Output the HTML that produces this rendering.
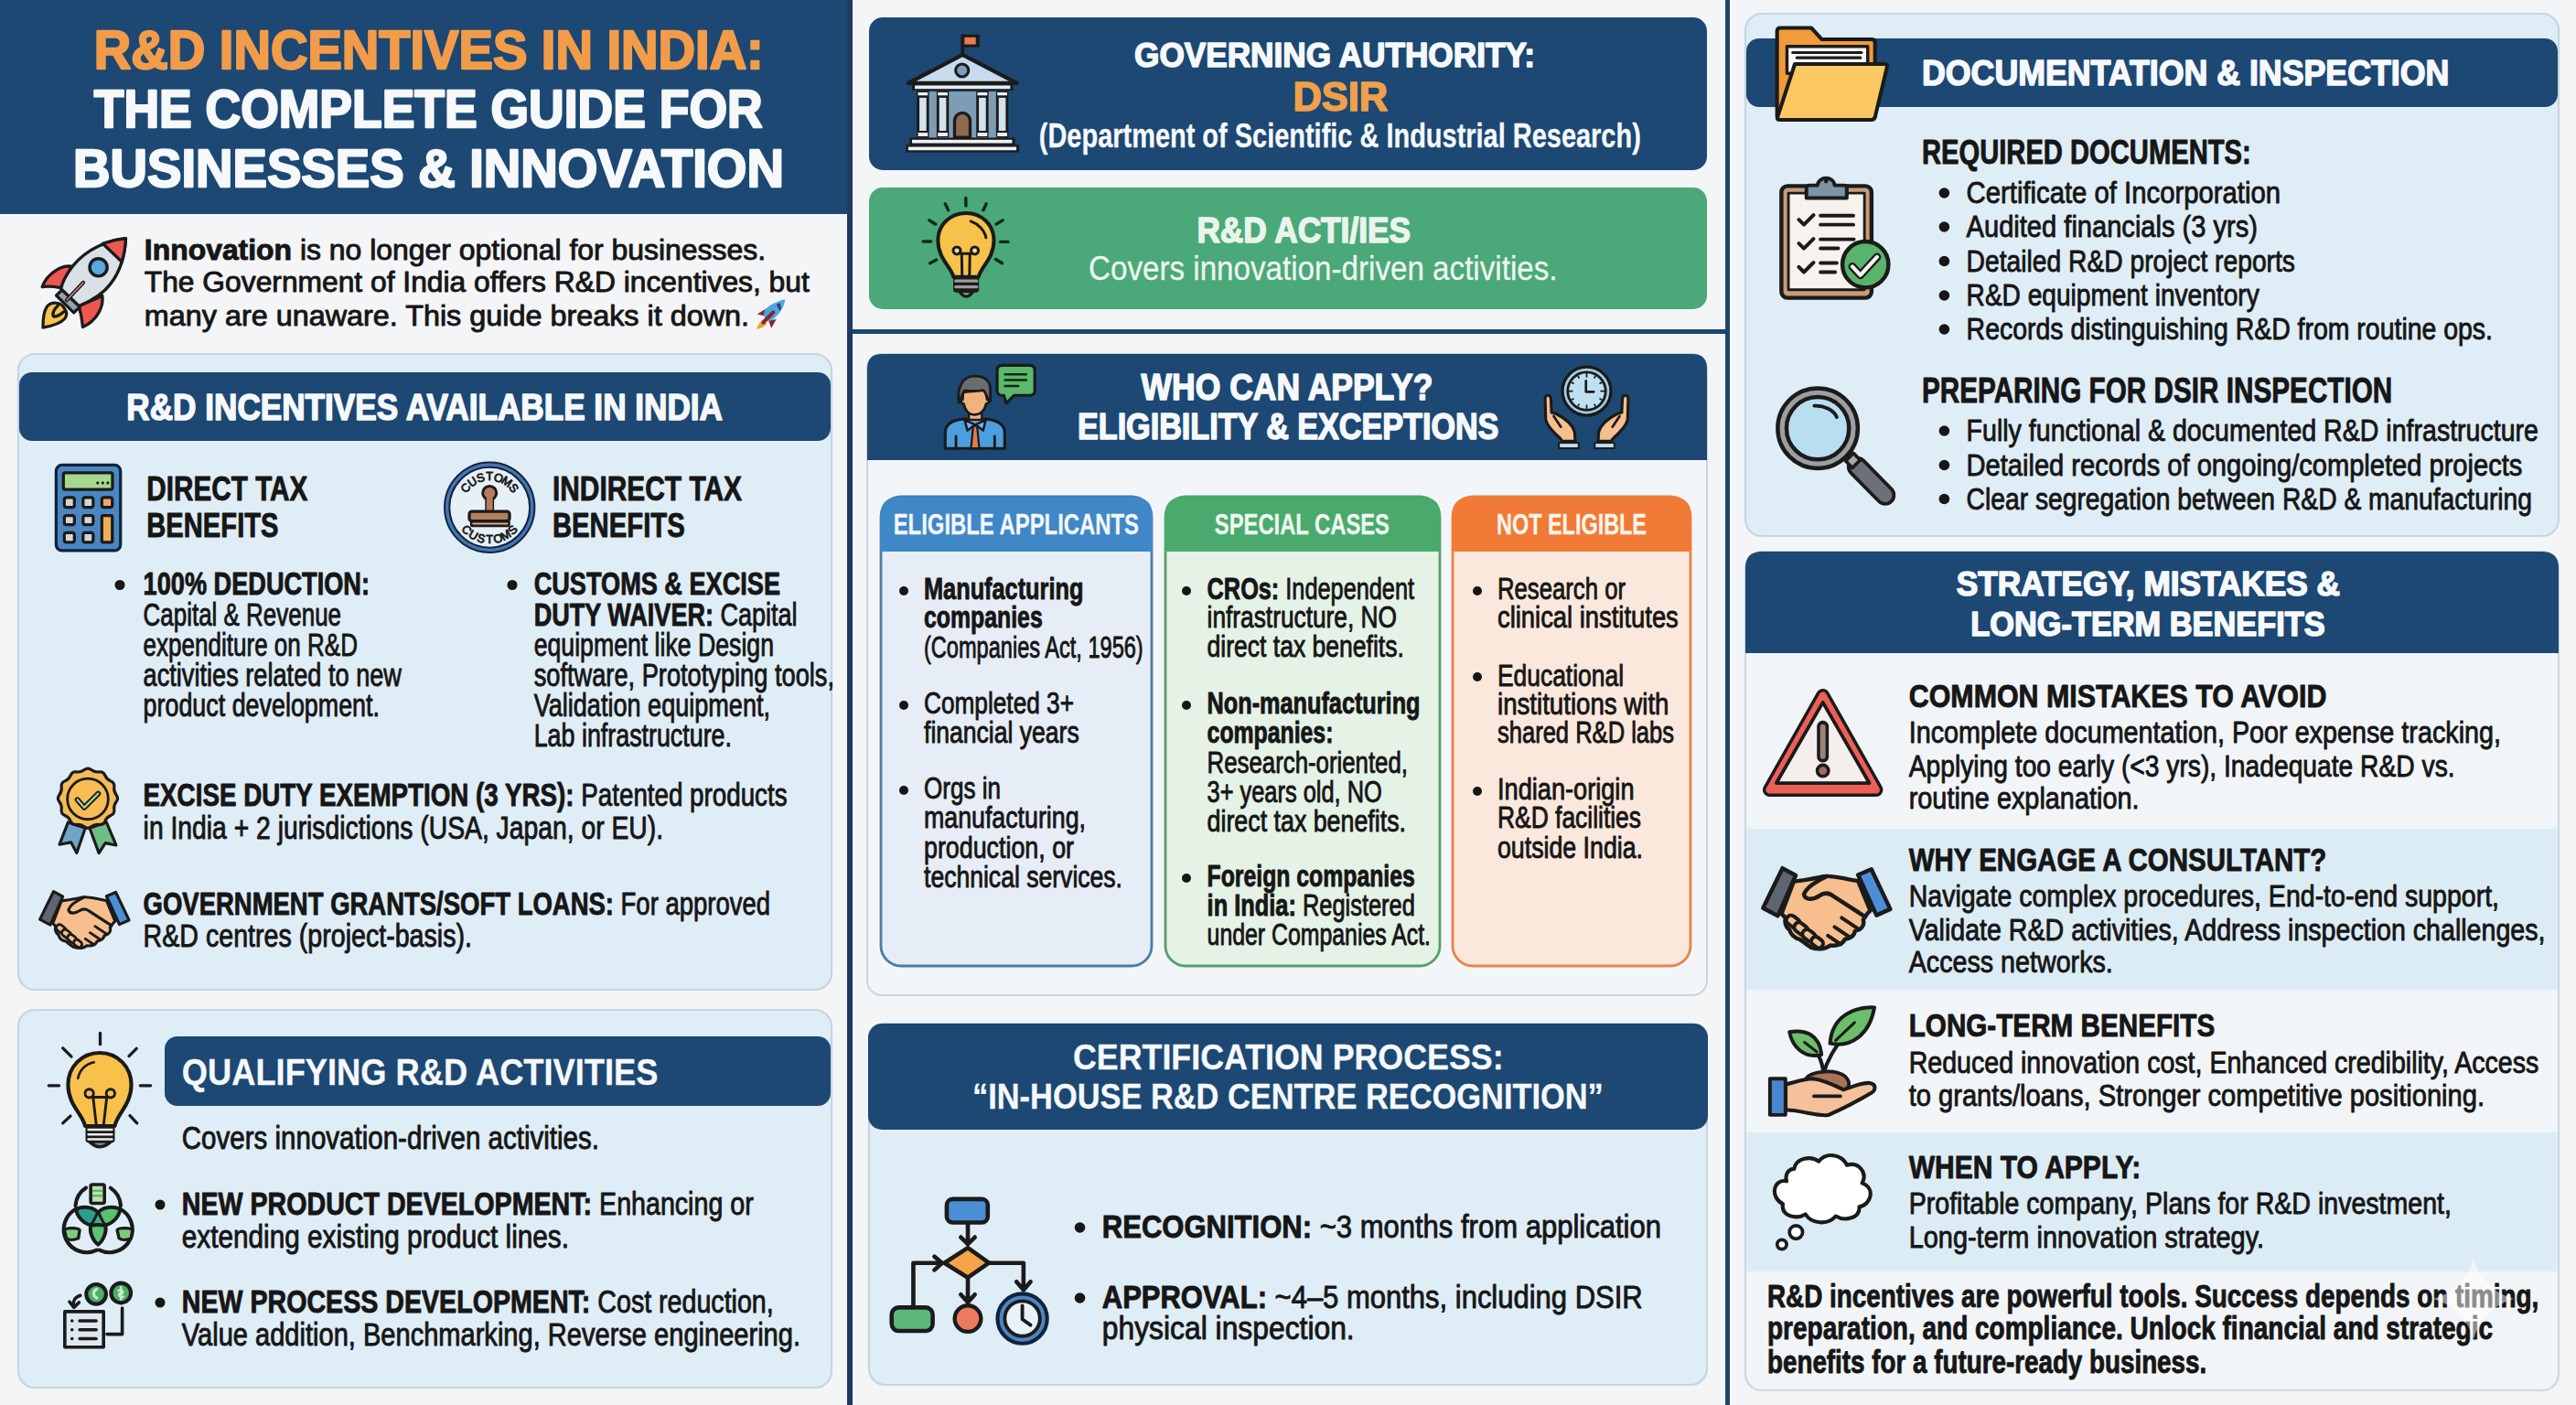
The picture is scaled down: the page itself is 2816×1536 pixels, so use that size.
<!DOCTYPE html>
<html><head><meta charset="utf-8"><title>R&amp;D Incentives in India</title>
<style>
html,body{margin:0;padding:0;background:#f3f5f7;overflow:hidden;width:2816px;height:1536px;}
svg{display:block;}
text{font-family:"Liberation Sans",sans-serif;}
</style></head><body>
<svg width="2816" height="1536" viewBox="0 0 2816 1536">
<rect x="0.0" y="0.0" width="2816.0" height="1536.0" rx="0" fill="#f3f5f7" />
<rect x="0.0" y="0.0" width="931.0" height="234.0" rx="0" fill="#1c4873" />
<rect x="926.0" y="0.0" width="6.0" height="1536.0" rx="0" fill="#1f3c5e" />
<rect x="1886.0" y="0.0" width="5.0" height="1536.0" rx="0" fill="#1b4670" />
<rect x="932.0" y="360.0" width="954.0" height="5.0" rx="0" fill="#1b4670" />
<rect x="20.0" y="387.0" width="889.0" height="695.0" rx="18" fill="#dfedf6" stroke="#c5d5e0" stroke-width="2.2" />
<rect x="21.0" y="407.0" width="887.0" height="75.0" rx="14" fill="#1c4873" />
<rect x="20.0" y="1104.0" width="889.0" height="413.0" rx="18" fill="#dfedf6" stroke="#c5d5e0" stroke-width="2.2" />
<rect x="180.0" y="1133.0" width="728.0" height="76.0" rx="14" fill="#1c4873" />
<rect x="950.0" y="19.0" width="916.0" height="167.0" rx="15" fill="#1c4873" />
<rect x="950.0" y="205.0" width="916.0" height="133.0" rx="15" fill="#4ba878" />
<rect x="948.0" y="387.0" width="918.0" height="701.0" rx="16" fill="#f3f6f9" stroke="#c9d5de" stroke-width="2" />
<path d="M948,503 V403 Q948,387 964,387 H1850 Q1866,387 1866,403 V503 Z" fill="#1c4873" />
<rect x="963.0" y="543.0" width="296.0" height="513.0" rx="22" fill="#e6edf6" stroke="#4a7ca8" stroke-width="2.8" />
<path d="M962.0,603 V565 Q962.0,543 984.0,543 H1238.0 Q1260.0,543 1260.0,565 V603 Z" fill="#3f87c7" />
<rect x="1274.0" y="543.0" width="300.0" height="513.0" rx="22" fill="#e5f2e6" stroke="#55a068" stroke-width="2.8" />
<path d="M1273.0,603 V565 Q1273.0,543 1295.0,543 H1553.0 Q1575.0,543 1575.0,565 V603 Z" fill="#4aaa6e" />
<rect x="1588.0" y="543.0" width="260.0" height="513.0" rx="22" fill="#fbe8dc" stroke="#e8834a" stroke-width="2.8" />
<path d="M1587.0,603 V565 Q1587.0,543 1609.0,543 H1827.0 Q1849.0,543 1849.0,565 V603 Z" fill="#f07a36" />
<rect x="950.0" y="1119.0" width="916.0" height="395.0" rx="18" fill="#dfedf6" stroke="#c5d5e0" stroke-width="2.2" />
<rect x="949.0" y="1119.0" width="918.0" height="116.0" rx="15" fill="#1c4873" />
<rect x="1908.0" y="15.0" width="889.0" height="571.0" rx="18" fill="#dfedf6" stroke="#c5d5e0" stroke-width="2.2" />
<rect x="1909.0" y="42.0" width="887.0" height="75.0" rx="14" fill="#1c4873" />
<rect x="1908.0" y="603.0" width="889.0" height="917.0" rx="18" fill="#f1f5f8" stroke="#c9d9e3" stroke-width="2.2" />
<rect x="1909.5" y="906.0" width="886.0" height="176.0" rx="0" fill="#dcecf5" />
<rect x="1909.5" y="1238.0" width="886.0" height="152.0" rx="0" fill="#dcecf5" />
<path d="M1908,714 V621 Q1908,603 1926,603 H2779 Q2797,603 2797,621 V714 Z" fill="#1c4873" />
<text x="102.8" y="75.0" font-size="59.59" fill="#f29c4a" stroke="#f29c4a" stroke-width="2.40" stroke-linejoin="round" textLength="732.0" lengthAdjust="spacingAndGlyphs" xml:space="preserve"><tspan font-weight="bold">R&amp;D INCENTIVES IN INDIA:</tspan></text>
<text x="102.8" y="138.8" font-size="58.14" fill="#f6f8fa" stroke="#f6f8fa" stroke-width="2.40" stroke-linejoin="round" textLength="730.8" lengthAdjust="spacingAndGlyphs" xml:space="preserve"><tspan font-weight="bold">THE COMPLETE GUIDE FOR</tspan></text>
<text x="80.0" y="203.8" font-size="58.14" fill="#f6f8fa" stroke="#f6f8fa" stroke-width="2.40" stroke-linejoin="round" textLength="777.0" lengthAdjust="spacingAndGlyphs" xml:space="preserve"><tspan font-weight="bold">BUSINESSES &amp; INNOVATION</tspan></text>
<text x="157.8" y="283.8" font-size="30.52" fill="#161616" stroke="#161616" stroke-width="0.90" stroke-linejoin="round" textLength="679.2" lengthAdjust="spacingAndGlyphs" xml:space="preserve"><tspan font-weight="bold">Innovation</tspan><tspan font-weight="normal"> is no longer optional for businesses.</tspan></text>
<text x="157.8" y="318.8" font-size="30.52" fill="#161616" stroke="#161616" stroke-width="0.90" stroke-linejoin="round" textLength="727.0" lengthAdjust="spacingAndGlyphs" xml:space="preserve"><tspan font-weight="normal">The Government of India offers R&amp;D incentives, but</tspan></text>
<text x="157.8" y="355.5" font-size="30.52" fill="#161616" stroke="#161616" stroke-width="0.90" stroke-linejoin="round" textLength="661.2" lengthAdjust="spacingAndGlyphs" xml:space="preserve"><tspan font-weight="normal">many are unaware. This guide breaks it down.</tspan></text>
<text x="138.3" y="459.0" font-size="40.70" fill="#f6f8fa" stroke="#f6f8fa" stroke-width="1.60" stroke-linejoin="round" textLength="651.7" lengthAdjust="spacingAndGlyphs" xml:space="preserve"><tspan font-weight="bold">R&amp;D INCENTIVES AVAILABLE IN INDIA</tspan></text>
<text x="160.3" y="547.0" font-size="37.79" fill="#161616" stroke="#161616" stroke-width="0.90" stroke-linejoin="round" textLength="176.1" lengthAdjust="spacingAndGlyphs" xml:space="preserve"><tspan font-weight="bold">DIRECT TAX</tspan></text>
<text x="160.3" y="586.6" font-size="37.79" fill="#161616" stroke="#161616" stroke-width="0.90" stroke-linejoin="round" textLength="144.2" lengthAdjust="spacingAndGlyphs" xml:space="preserve"><tspan font-weight="bold">BENEFITS</tspan></text>
<text x="603.9" y="547.0" font-size="37.79" fill="#161616" stroke="#161616" stroke-width="0.90" stroke-linejoin="round" textLength="207.1" lengthAdjust="spacingAndGlyphs" xml:space="preserve"><tspan font-weight="bold">INDIRECT TAX</tspan></text>
<text x="603.9" y="586.6" font-size="37.79" fill="#161616" stroke="#161616" stroke-width="0.90" stroke-linejoin="round" textLength="144.9" lengthAdjust="spacingAndGlyphs" xml:space="preserve"><tspan font-weight="bold">BENEFITS</tspan></text>
<text x="156.6" y="650.0" font-size="34.16" fill="#161616" stroke="#161616" stroke-width="0.90" stroke-linejoin="round" textLength="247.4" lengthAdjust="spacingAndGlyphs" xml:space="preserve"><tspan font-weight="bold">100% DEDUCTION:</tspan></text>
<text x="156.6" y="683.7" font-size="34.16" fill="#161616" stroke="#161616" stroke-width="0.90" stroke-linejoin="round" textLength="216.4" lengthAdjust="spacingAndGlyphs" xml:space="preserve"><tspan font-weight="normal">Capital &amp; Revenue</tspan></text>
<text x="156.6" y="716.7" font-size="34.16" fill="#161616" stroke="#161616" stroke-width="0.90" stroke-linejoin="round" textLength="234.4" lengthAdjust="spacingAndGlyphs" xml:space="preserve"><tspan font-weight="normal">expenditure on R&amp;D</tspan></text>
<text x="156.6" y="749.7" font-size="34.16" fill="#161616" stroke="#161616" stroke-width="0.90" stroke-linejoin="round" textLength="282.4" lengthAdjust="spacingAndGlyphs" xml:space="preserve"><tspan font-weight="normal">activities related to new</tspan></text>
<text x="156.6" y="782.7" font-size="34.16" fill="#161616" stroke="#161616" stroke-width="0.90" stroke-linejoin="round" textLength="258.4" lengthAdjust="spacingAndGlyphs" xml:space="preserve"><tspan font-weight="normal">product development.</tspan></text>
<circle cx="131.0" cy="639.5" r="5.5" fill="#161616"/>
<text x="583.7" y="650.0" font-size="34.16" fill="#161616" stroke="#161616" stroke-width="0.90" stroke-linejoin="round" textLength="269.3" lengthAdjust="spacingAndGlyphs" xml:space="preserve"><tspan font-weight="bold">CUSTOMS &amp; EXCISE</tspan></text>
<text x="583.7" y="683.7" font-size="34.16" fill="#161616" stroke="#161616" stroke-width="0.90" stroke-linejoin="round" textLength="287.9" lengthAdjust="spacingAndGlyphs" xml:space="preserve"><tspan font-weight="bold">DUTY WAIVER:</tspan><tspan font-weight="normal"> Capital</tspan></text>
<text x="583.7" y="716.7" font-size="34.16" fill="#161616" stroke="#161616" stroke-width="0.90" stroke-linejoin="round" textLength="262.3" lengthAdjust="spacingAndGlyphs" xml:space="preserve"><tspan font-weight="normal">equipment like Design</tspan></text>
<text x="583.7" y="749.7" font-size="34.16" fill="#161616" stroke="#161616" stroke-width="0.90" stroke-linejoin="round" textLength="328.3" lengthAdjust="spacingAndGlyphs" xml:space="preserve"><tspan font-weight="normal">software, Prototyping tools,</tspan></text>
<text x="583.7" y="782.7" font-size="34.16" fill="#161616" stroke="#161616" stroke-width="0.90" stroke-linejoin="round" textLength="258.3" lengthAdjust="spacingAndGlyphs" xml:space="preserve"><tspan font-weight="normal">Validation equipment,</tspan></text>
<text x="583.7" y="815.7" font-size="34.16" fill="#161616" stroke="#161616" stroke-width="0.90" stroke-linejoin="round" textLength="216.3" lengthAdjust="spacingAndGlyphs" xml:space="preserve"><tspan font-weight="normal">Lab infrastructure.</tspan></text>
<circle cx="560.0" cy="639.5" r="5.5" fill="#161616"/>
<text x="156.6" y="880.5" font-size="34.16" fill="#161616" stroke="#161616" stroke-width="0.90" stroke-linejoin="round" textLength="704.0" lengthAdjust="spacingAndGlyphs" xml:space="preserve"><tspan font-weight="bold">EXCISE DUTY EXEMPTION (3 YRS):</tspan><tspan font-weight="normal"> Patented products</tspan></text>
<text x="156.6" y="917.0" font-size="34.16" fill="#161616" stroke="#161616" stroke-width="0.90" stroke-linejoin="round" textLength="568.4" lengthAdjust="spacingAndGlyphs" xml:space="preserve"><tspan font-weight="normal">in India + 2 jurisdictions (USA, Japan, or EU).</tspan></text>
<text x="156.6" y="999.6" font-size="34.16" fill="#161616" stroke="#161616" stroke-width="0.90" stroke-linejoin="round" textLength="685.4" lengthAdjust="spacingAndGlyphs" xml:space="preserve"><tspan font-weight="bold">GOVERNMENT GRANTS/SOFT LOANS:</tspan><tspan font-weight="normal"> For approved</tspan></text>
<text x="156.6" y="1034.5" font-size="34.16" fill="#161616" stroke="#161616" stroke-width="0.90" stroke-linejoin="round" textLength="359.4" lengthAdjust="spacingAndGlyphs" xml:space="preserve"><tspan font-weight="normal">R&amp;D centres (project-basis).</tspan></text>
<text x="198.8" y="1185.5" font-size="40.70" fill="#f6f8fa" stroke="#f6f8fa" stroke-width="0.30" stroke-linejoin="round" textLength="520.7" lengthAdjust="spacingAndGlyphs" xml:space="preserve"><tspan font-weight="bold">QUALIFYING R&amp;D ACTIVITIES</tspan></text>
<text x="198.8" y="1256.2" font-size="34.16" fill="#161616" stroke="#161616" stroke-width="0.90" stroke-linejoin="round" textLength="456.2" lengthAdjust="spacingAndGlyphs" xml:space="preserve"><tspan font-weight="normal">Covers innovation-driven activities.</tspan></text>
<text x="198.8" y="1327.6" font-size="34.16" fill="#161616" stroke="#161616" stroke-width="0.90" stroke-linejoin="round" textLength="624.9" lengthAdjust="spacingAndGlyphs" xml:space="preserve"><tspan font-weight="bold">NEW PRODUCT DEVELOPMENT:</tspan><tspan font-weight="normal"> Enhancing or</tspan></text>
<text x="198.8" y="1363.5" font-size="34.16" fill="#161616" stroke="#161616" stroke-width="0.90" stroke-linejoin="round" textLength="423.2" lengthAdjust="spacingAndGlyphs" xml:space="preserve"><tspan font-weight="normal">extending existing product lines.</tspan></text>
<text x="198.8" y="1434.6" font-size="34.16" fill="#161616" stroke="#161616" stroke-width="0.90" stroke-linejoin="round" textLength="646.9" lengthAdjust="spacingAndGlyphs" xml:space="preserve"><tspan font-weight="bold">NEW PROCESS DEVELOPMENT:</tspan><tspan font-weight="normal"> Cost reduction,</tspan></text>
<text x="198.8" y="1470.5" font-size="34.16" fill="#161616" stroke="#161616" stroke-width="0.90" stroke-linejoin="round" textLength="676.2" lengthAdjust="spacingAndGlyphs" xml:space="preserve"><tspan font-weight="normal">Value addition, Benchmarking, Reverse engineering.</tspan></text>
<circle cx="175.0" cy="1317.0" r="5.5" fill="#161616"/>
<circle cx="175.0" cy="1424.0" r="5.5" fill="#161616"/>
<text x="1240.0" y="72.7" font-size="37.79" fill="#f6f8fa" stroke="#f6f8fa" stroke-width="1.60" stroke-linejoin="round" textLength="438.0" lengthAdjust="spacingAndGlyphs" xml:space="preserve"><tspan font-weight="bold">GOVERNING AUTHORITY:</tspan></text>
<text x="1413.5" y="121.0" font-size="43.61" fill="#f0a048" stroke="#f0a048" stroke-width="1.60" stroke-linejoin="round" textLength="103.5" lengthAdjust="spacingAndGlyphs" xml:space="preserve"><tspan font-weight="bold">DSIR</tspan></text>
<text x="1135.8" y="161.0" font-size="36.34" fill="#f6f8fa" stroke="#f6f8fa" stroke-width="0.30" stroke-linejoin="round" textLength="658.0" lengthAdjust="spacingAndGlyphs" xml:space="preserve"><tspan font-weight="bold">(Department of Scientific &amp; Industrial Research)</tspan></text>
<text x="1308.4" y="265.4" font-size="39.24" fill="#e9f4ec" stroke="#e9f4ec" stroke-width="1.60" stroke-linejoin="round" textLength="233.6" lengthAdjust="spacingAndGlyphs" xml:space="preserve"><tspan font-weight="bold">R&amp;D ACTI/IES</tspan></text>
<text x="1190.0" y="305.6" font-size="37.79" fill="#edf6ef" stroke="#edf6ef" stroke-width="0.30" stroke-linejoin="round" textLength="512.5" lengthAdjust="spacingAndGlyphs" xml:space="preserve"><tspan font-weight="normal">Covers innovation-driven activities.</tspan></text>
<text x="1247.6" y="437.0" font-size="40.70" fill="#f6f8fa" stroke="#f6f8fa" stroke-width="1.60" stroke-linejoin="round" textLength="318.8" lengthAdjust="spacingAndGlyphs" xml:space="preserve"><tspan font-weight="bold">WHO CAN APPLY?</tspan></text>
<text x="1178.0" y="480.0" font-size="39.97" fill="#f6f8fa" stroke="#f6f8fa" stroke-width="1.60" stroke-linejoin="round" textLength="460.4" lengthAdjust="spacingAndGlyphs" xml:space="preserve"><tspan font-weight="bold">ELIGIBILITY &amp; EXCEPTIONS</tspan></text>
<text x="976.7" y="584.0" font-size="31.25" fill="#f4f7fb" stroke="#f4f7fb" stroke-width="0.30" stroke-linejoin="round" textLength="268.3" lengthAdjust="spacingAndGlyphs" xml:space="preserve"><tspan font-weight="bold">ELIGIBLE APPLICANTS</tspan></text>
<text x="1327.8" y="584.0" font-size="31.25" fill="#eef8f0" stroke="#eef8f0" stroke-width="0.30" stroke-linejoin="round" textLength="191.2" lengthAdjust="spacingAndGlyphs" xml:space="preserve"><tspan font-weight="bold">SPECIAL CASES</tspan></text>
<text x="1636.0" y="584.0" font-size="31.25" fill="#fff4ec" stroke="#fff4ec" stroke-width="0.30" stroke-linejoin="round" textLength="164.0" lengthAdjust="spacingAndGlyphs" xml:space="preserve"><tspan font-weight="bold">NOT ELIGIBLE</tspan></text>
<text x="1010.0" y="655.0" font-size="32.70" fill="#161616" stroke="#161616" stroke-width="0.90" stroke-linejoin="round" textLength="174.4" lengthAdjust="spacingAndGlyphs" xml:space="preserve"><tspan font-weight="bold">Manufacturing</tspan></text>
<text x="1010.0" y="686.0" font-size="32.70" fill="#161616" stroke="#161616" stroke-width="0.90" stroke-linejoin="round" textLength="129.7" lengthAdjust="spacingAndGlyphs" xml:space="preserve"><tspan font-weight="bold">companies</tspan></text>
<text x="1010.0" y="718.5" font-size="32.70" fill="#161616" stroke="#161616" stroke-width="0.90" stroke-linejoin="round" textLength="239.7" lengthAdjust="spacingAndGlyphs" xml:space="preserve"><tspan font-weight="normal">(Companies Act, 1956)</tspan></text>
<text x="1010.0" y="780.0" font-size="32.70" fill="#161616" stroke="#161616" stroke-width="0.90" stroke-linejoin="round" textLength="164.0" lengthAdjust="spacingAndGlyphs" xml:space="preserve"><tspan font-weight="normal">Completed 3+</tspan></text>
<text x="1010.0" y="812.0" font-size="32.70" fill="#161616" stroke="#161616" stroke-width="0.90" stroke-linejoin="round" textLength="169.7" lengthAdjust="spacingAndGlyphs" xml:space="preserve"><tspan font-weight="normal">financial years</tspan></text>
<text x="1010.0" y="873.0" font-size="32.70" fill="#161616" stroke="#161616" stroke-width="0.90" stroke-linejoin="round" textLength="84.0" lengthAdjust="spacingAndGlyphs" xml:space="preserve"><tspan font-weight="normal">Orgs in</tspan></text>
<text x="1010.0" y="905.4" font-size="32.70" fill="#161616" stroke="#161616" stroke-width="0.90" stroke-linejoin="round" textLength="177.0" lengthAdjust="spacingAndGlyphs" xml:space="preserve"><tspan font-weight="normal">manufacturing,</tspan></text>
<text x="1010.0" y="937.8" font-size="32.70" fill="#161616" stroke="#161616" stroke-width="0.90" stroke-linejoin="round" textLength="164.0" lengthAdjust="spacingAndGlyphs" xml:space="preserve"><tspan font-weight="normal">production, or</tspan></text>
<text x="1010.0" y="970.0" font-size="32.70" fill="#161616" stroke="#161616" stroke-width="0.90" stroke-linejoin="round" textLength="217.0" lengthAdjust="spacingAndGlyphs" xml:space="preserve"><tspan font-weight="normal">technical services.</tspan></text>
<circle cx="988.0" cy="646.0" r="5.0" fill="#161616"/>
<circle cx="988.0" cy="771.0" r="5.0" fill="#161616"/>
<circle cx="988.0" cy="864.0" r="5.0" fill="#161616"/>
<text x="1319.6" y="655.0" font-size="32.70" fill="#161616" stroke="#161616" stroke-width="0.90" stroke-linejoin="round" textLength="226.4" lengthAdjust="spacingAndGlyphs" xml:space="preserve"><tspan font-weight="bold">CROs:</tspan><tspan font-weight="normal"> Independent</tspan></text>
<text x="1319.6" y="686.0" font-size="32.70" fill="#161616" stroke="#161616" stroke-width="0.90" stroke-linejoin="round" textLength="207.4" lengthAdjust="spacingAndGlyphs" xml:space="preserve"><tspan font-weight="normal">infrastructure, NO</tspan></text>
<text x="1319.6" y="718.0" font-size="32.70" fill="#161616" stroke="#161616" stroke-width="0.90" stroke-linejoin="round" textLength="215.2" lengthAdjust="spacingAndGlyphs" xml:space="preserve"><tspan font-weight="normal">direct tax benefits.</tspan></text>
<text x="1319.6" y="780.0" font-size="32.70" fill="#161616" stroke="#161616" stroke-width="0.90" stroke-linejoin="round" textLength="232.9" lengthAdjust="spacingAndGlyphs" xml:space="preserve"><tspan font-weight="bold">Non-manufacturing</tspan></text>
<text x="1319.6" y="812.0" font-size="32.70" fill="#161616" stroke="#161616" stroke-width="0.90" stroke-linejoin="round" textLength="137.8" lengthAdjust="spacingAndGlyphs" xml:space="preserve"><tspan font-weight="bold">companies:</tspan></text>
<text x="1319.6" y="844.6" font-size="32.70" fill="#161616" stroke="#161616" stroke-width="0.90" stroke-linejoin="round" textLength="219.4" lengthAdjust="spacingAndGlyphs" xml:space="preserve"><tspan font-weight="normal">Research-oriented,</tspan></text>
<text x="1319.6" y="877.0" font-size="32.70" fill="#161616" stroke="#161616" stroke-width="0.90" stroke-linejoin="round" textLength="191.1" lengthAdjust="spacingAndGlyphs" xml:space="preserve"><tspan font-weight="normal">3+ years old, NO</tspan></text>
<text x="1319.6" y="908.5" font-size="32.70" fill="#161616" stroke="#161616" stroke-width="0.90" stroke-linejoin="round" textLength="217.4" lengthAdjust="spacingAndGlyphs" xml:space="preserve"><tspan font-weight="normal">direct tax benefits.</tspan></text>
<text x="1319.6" y="969.3" font-size="32.70" fill="#161616" stroke="#161616" stroke-width="0.90" stroke-linejoin="round" textLength="227.2" lengthAdjust="spacingAndGlyphs" xml:space="preserve"><tspan font-weight="bold">Foreign companies</tspan></text>
<text x="1319.6" y="1000.5" font-size="32.70" fill="#161616" stroke="#161616" stroke-width="0.90" stroke-linejoin="round" textLength="227.2" lengthAdjust="spacingAndGlyphs" xml:space="preserve"><tspan font-weight="bold">in India:</tspan><tspan font-weight="normal"> Registered</tspan></text>
<text x="1319.6" y="1032.9" font-size="32.70" fill="#161616" stroke="#161616" stroke-width="0.90" stroke-linejoin="round" textLength="244.4" lengthAdjust="spacingAndGlyphs" xml:space="preserve"><tspan font-weight="normal">under Companies Act.</tspan></text>
<circle cx="1297.0" cy="646.0" r="5.0" fill="#161616"/>
<circle cx="1297.0" cy="771.0" r="5.0" fill="#161616"/>
<circle cx="1297.0" cy="960.0" r="5.0" fill="#161616"/>
<text x="1637.0" y="655.0" font-size="32.70" fill="#161616" stroke="#161616" stroke-width="0.90" stroke-linejoin="round" textLength="140.0" lengthAdjust="spacingAndGlyphs" xml:space="preserve"><tspan font-weight="normal">Research or</tspan></text>
<text x="1637.0" y="686.0" font-size="32.70" fill="#161616" stroke="#161616" stroke-width="0.90" stroke-linejoin="round" textLength="197.8" lengthAdjust="spacingAndGlyphs" xml:space="preserve"><tspan font-weight="normal">clinical institutes</tspan></text>
<text x="1637.0" y="749.5" font-size="32.70" fill="#161616" stroke="#161616" stroke-width="0.90" stroke-linejoin="round" textLength="138.0" lengthAdjust="spacingAndGlyphs" xml:space="preserve"><tspan font-weight="normal">Educational</tspan></text>
<text x="1637.0" y="781.0" font-size="32.70" fill="#161616" stroke="#161616" stroke-width="0.90" stroke-linejoin="round" textLength="187.5" lengthAdjust="spacingAndGlyphs" xml:space="preserve"><tspan font-weight="normal">institutions with</tspan></text>
<text x="1637.0" y="812.0" font-size="32.70" fill="#161616" stroke="#161616" stroke-width="0.90" stroke-linejoin="round" textLength="193.0" lengthAdjust="spacingAndGlyphs" xml:space="preserve"><tspan font-weight="normal">shared R&amp;D labs</tspan></text>
<text x="1637.0" y="874.0" font-size="32.70" fill="#161616" stroke="#161616" stroke-width="0.90" stroke-linejoin="round" textLength="149.5" lengthAdjust="spacingAndGlyphs" xml:space="preserve"><tspan font-weight="normal">Indian-origin</tspan></text>
<text x="1637.0" y="905.4" font-size="32.70" fill="#161616" stroke="#161616" stroke-width="0.90" stroke-linejoin="round" textLength="157.0" lengthAdjust="spacingAndGlyphs" xml:space="preserve"><tspan font-weight="normal">R&amp;D facilities</tspan></text>
<text x="1637.0" y="937.8" font-size="32.70" fill="#161616" stroke="#161616" stroke-width="0.90" stroke-linejoin="round" textLength="159.0" lengthAdjust="spacingAndGlyphs" xml:space="preserve"><tspan font-weight="normal">outside India.</tspan></text>
<circle cx="1615.0" cy="646.0" r="5.0" fill="#161616"/>
<circle cx="1615.0" cy="740.0" r="5.0" fill="#161616"/>
<circle cx="1615.0" cy="865.0" r="5.0" fill="#161616"/>
<text x="1173.0" y="1168.7" font-size="39.24" fill="#f6f8fa" stroke="#f6f8fa" stroke-width="0.30" stroke-linejoin="round" textLength="470.6" lengthAdjust="spacingAndGlyphs" xml:space="preserve"><tspan font-weight="bold">CERTIFICATION PROCESS:</tspan></text>
<text x="1063.0" y="1212.3" font-size="39.24" fill="#f6f8fa" stroke="#f6f8fa" stroke-width="0.30" stroke-linejoin="round" textLength="689.8" lengthAdjust="spacingAndGlyphs" xml:space="preserve"><tspan font-weight="bold">“IN-HOUSE R&amp;D CENTRE RECOGNITION”</tspan></text>
<text x="1204.8" y="1352.8" font-size="34.88" fill="#161616" stroke="#161616" stroke-width="0.90" stroke-linejoin="round" textLength="611.2" lengthAdjust="spacingAndGlyphs" xml:space="preserve"><tspan font-weight="bold">RECOGNITION:</tspan><tspan font-weight="normal"> ~3 months from application</tspan></text>
<text x="1204.8" y="1430.3" font-size="34.88" fill="#161616" stroke="#161616" stroke-width="0.90" stroke-linejoin="round" textLength="590.9" lengthAdjust="spacingAndGlyphs" xml:space="preserve"><tspan font-weight="bold">APPROVAL:</tspan><tspan font-weight="normal"> ~4–5 months, including DSIR</tspan></text>
<text x="1204.8" y="1463.9" font-size="34.88" fill="#161616" stroke="#161616" stroke-width="0.90" stroke-linejoin="round" textLength="275.9" lengthAdjust="spacingAndGlyphs" xml:space="preserve"><tspan font-weight="normal">physical inspection.</tspan></text>
<circle cx="1180.5" cy="1342.0" r="5.8" fill="#161616"/>
<circle cx="1180.5" cy="1419.0" r="5.8" fill="#161616"/>
<text x="2101.0" y="93.0" font-size="39.24" fill="#f6f8fa" stroke="#f6f8fa" stroke-width="1.60" stroke-linejoin="round" textLength="576.3" lengthAdjust="spacingAndGlyphs" xml:space="preserve"><tspan font-weight="bold">DOCUMENTATION &amp; INSPECTION</tspan></text>
<text x="2101.0" y="179.0" font-size="36.34" fill="#161616" stroke="#161616" stroke-width="0.90" stroke-linejoin="round" textLength="359.7" lengthAdjust="spacingAndGlyphs" xml:space="preserve"><tspan font-weight="bold">REQUIRED DOCUMENTS:</tspan></text>
<text x="2149.6" y="222.2" font-size="34.01" fill="#161616" stroke="#161616" stroke-width="0.90" stroke-linejoin="round" textLength="343.4" lengthAdjust="spacingAndGlyphs" xml:space="preserve"><tspan font-weight="normal">Certificate of Incorporation</tspan></text>
<text x="2149.6" y="259.2" font-size="34.01" fill="#161616" stroke="#161616" stroke-width="0.90" stroke-linejoin="round" textLength="318.4" lengthAdjust="spacingAndGlyphs" xml:space="preserve"><tspan font-weight="normal">Audited financials (3 yrs)</tspan></text>
<text x="2149.6" y="297.0" font-size="34.01" fill="#161616" stroke="#161616" stroke-width="0.90" stroke-linejoin="round" textLength="359.4" lengthAdjust="spacingAndGlyphs" xml:space="preserve"><tspan font-weight="normal">Detailed R&amp;D project reports</tspan></text>
<text x="2149.6" y="334.4" font-size="34.01" fill="#161616" stroke="#161616" stroke-width="0.90" stroke-linejoin="round" textLength="320.1" lengthAdjust="spacingAndGlyphs" xml:space="preserve"><tspan font-weight="normal">R&amp;D equipment inventory</tspan></text>
<text x="2149.6" y="371.4" font-size="34.01" fill="#161616" stroke="#161616" stroke-width="0.90" stroke-linejoin="round" textLength="575.4" lengthAdjust="spacingAndGlyphs" xml:space="preserve"><tspan font-weight="normal">Records distinguishing R&amp;D from routine ops.</tspan></text>
<circle cx="2125.4" cy="211.0" r="5.8" fill="#161616"/>
<circle cx="2125.4" cy="248.0" r="5.8" fill="#161616"/>
<circle cx="2125.4" cy="285.5" r="5.8" fill="#161616"/>
<circle cx="2125.4" cy="323.0" r="5.8" fill="#161616"/>
<circle cx="2125.4" cy="360.0" r="5.8" fill="#161616"/>
<text x="2101.0" y="439.7" font-size="39.24" fill="#161616" stroke="#161616" stroke-width="0.90" stroke-linejoin="round" textLength="514.3" lengthAdjust="spacingAndGlyphs" xml:space="preserve"><tspan font-weight="bold">PREPARING FOR DSIR INSPECTION</tspan></text>
<text x="2149.6" y="481.7" font-size="34.01" fill="#161616" stroke="#161616" stroke-width="0.90" stroke-linejoin="round" textLength="625.4" lengthAdjust="spacingAndGlyphs" xml:space="preserve"><tspan font-weight="normal">Fully functional &amp; documented R&amp;D infrastructure</tspan></text>
<text x="2149.6" y="519.8" font-size="34.01" fill="#161616" stroke="#161616" stroke-width="0.90" stroke-linejoin="round" textLength="607.7" lengthAdjust="spacingAndGlyphs" xml:space="preserve"><tspan font-weight="normal">Detailed records of ongoing/completed projects</tspan></text>
<text x="2149.6" y="556.5" font-size="34.01" fill="#161616" stroke="#161616" stroke-width="0.90" stroke-linejoin="round" textLength="618.4" lengthAdjust="spacingAndGlyphs" xml:space="preserve"><tspan font-weight="normal">Clear segregation between R&amp;D &amp; manufacturing</tspan></text>
<circle cx="2125.4" cy="471.0" r="5.8" fill="#161616"/>
<circle cx="2125.4" cy="508.5" r="5.8" fill="#161616"/>
<circle cx="2125.4" cy="545.5" r="5.8" fill="#161616"/>
<text x="2138.8" y="651.0" font-size="36.34" fill="#f6f8fa" stroke="#f6f8fa" stroke-width="1.60" stroke-linejoin="round" textLength="419.0" lengthAdjust="spacingAndGlyphs" xml:space="preserve"><tspan font-weight="bold">STRATEGY, MISTAKES &amp;</tspan></text>
<text x="2154.3" y="694.5" font-size="37.06" fill="#f6f8fa" stroke="#f6f8fa" stroke-width="1.60" stroke-linejoin="round" textLength="387.3" lengthAdjust="spacingAndGlyphs" xml:space="preserve"><tspan font-weight="bold">LONG-TERM BENEFITS</tspan></text>
<text x="2086.7" y="772.5" font-size="35.61" fill="#161616" stroke="#161616" stroke-width="0.90" stroke-linejoin="round" textLength="456.7" lengthAdjust="spacingAndGlyphs" xml:space="preserve"><tspan font-weight="bold">COMMON MISTAKES TO AVOID</tspan></text>
<text x="2086.7" y="812.0" font-size="33.14" fill="#161616" stroke="#161616" stroke-width="0.90" stroke-linejoin="round" textLength="647.3" lengthAdjust="spacingAndGlyphs" xml:space="preserve"><tspan font-weight="normal">Incomplete documentation, Poor expense tracking,</tspan></text>
<text x="2086.7" y="848.7" font-size="33.14" fill="#161616" stroke="#161616" stroke-width="0.90" stroke-linejoin="round" textLength="596.9" lengthAdjust="spacingAndGlyphs" xml:space="preserve"><tspan font-weight="normal">Applying too early (&lt;3 yrs), Inadequate R&amp;D vs.</tspan></text>
<text x="2086.7" y="884.0" font-size="33.14" fill="#161616" stroke="#161616" stroke-width="0.90" stroke-linejoin="round" textLength="251.8" lengthAdjust="spacingAndGlyphs" xml:space="preserve"><tspan font-weight="normal">routine explanation.</tspan></text>
<text x="2086.7" y="951.5" font-size="35.61" fill="#161616" stroke="#161616" stroke-width="0.90" stroke-linejoin="round" textLength="456.7" lengthAdjust="spacingAndGlyphs" xml:space="preserve"><tspan font-weight="bold">WHY ENGAGE A CONSULTANT?</tspan></text>
<text x="2086.7" y="991.0" font-size="33.14" fill="#161616" stroke="#161616" stroke-width="0.90" stroke-linejoin="round" textLength="645.3" lengthAdjust="spacingAndGlyphs" xml:space="preserve"><tspan font-weight="normal">Navigate complex procedures, End-to-end support,</tspan></text>
<text x="2086.7" y="1027.8" font-size="33.14" fill="#161616" stroke="#161616" stroke-width="0.90" stroke-linejoin="round" textLength="695.8" lengthAdjust="spacingAndGlyphs" xml:space="preserve"><tspan font-weight="normal">Validate R&amp;D activities, Address inspection challenges,</tspan></text>
<text x="2086.7" y="1063.0" font-size="33.14" fill="#161616" stroke="#161616" stroke-width="0.90" stroke-linejoin="round" textLength="223.1" lengthAdjust="spacingAndGlyphs" xml:space="preserve"><tspan font-weight="normal">Access networks.</tspan></text>
<text x="2086.7" y="1133.2" font-size="35.61" fill="#161616" stroke="#161616" stroke-width="0.90" stroke-linejoin="round" textLength="334.5" lengthAdjust="spacingAndGlyphs" xml:space="preserve"><tspan font-weight="bold">LONG-TERM BENEFITS</tspan></text>
<text x="2086.7" y="1172.7" font-size="33.14" fill="#161616" stroke="#161616" stroke-width="0.90" stroke-linejoin="round" textLength="688.6" lengthAdjust="spacingAndGlyphs" xml:space="preserve"><tspan font-weight="normal">Reduced innovation cost, Enhanced credibility, Access</tspan></text>
<text x="2086.7" y="1209.4" font-size="33.14" fill="#161616" stroke="#161616" stroke-width="0.90" stroke-linejoin="round" textLength="629.3" lengthAdjust="spacingAndGlyphs" xml:space="preserve"><tspan font-weight="normal">to grants/loans, Stronger competitive positioning.</tspan></text>
<text x="2086.7" y="1287.8" font-size="35.61" fill="#161616" stroke="#161616" stroke-width="0.90" stroke-linejoin="round" textLength="253.6" lengthAdjust="spacingAndGlyphs" xml:space="preserve"><tspan font-weight="bold">WHEN TO APPLY:</tspan></text>
<text x="2086.7" y="1327.3" font-size="33.14" fill="#161616" stroke="#161616" stroke-width="0.90" stroke-linejoin="round" textLength="593.3" lengthAdjust="spacingAndGlyphs" xml:space="preserve"><tspan font-weight="normal">Profitable company, Plans for R&amp;D investment,</tspan></text>
<text x="2086.7" y="1364.0" font-size="33.14" fill="#161616" stroke="#161616" stroke-width="0.90" stroke-linejoin="round" textLength="388.3" lengthAdjust="spacingAndGlyphs" xml:space="preserve"><tspan font-weight="normal">Long-term innovation strategy.</tspan></text>
<text x="1932.0" y="1429.4" font-size="34.88" fill="#161616" stroke="#161616" stroke-width="0.90" stroke-linejoin="round" textLength="843.3" lengthAdjust="spacingAndGlyphs" xml:space="preserve"><tspan font-weight="bold">R&amp;D incentives are powerful tools. Success depends on timing,</tspan></text>
<text x="1932.0" y="1464.0" font-size="34.88" fill="#161616" stroke="#161616" stroke-width="0.90" stroke-linejoin="round" textLength="793.0" lengthAdjust="spacingAndGlyphs" xml:space="preserve"><tspan font-weight="bold">preparation, and compliance. Unlock financial and strategic</tspan></text>
<text x="1932.0" y="1500.6" font-size="34.88" fill="#161616" stroke="#161616" stroke-width="0.90" stroke-linejoin="round" textLength="480.2" lengthAdjust="spacingAndGlyphs" xml:space="preserve"><tspan font-weight="bold">benefits for a future-ready business.</tspan></text>
<path d="M2704,1376 Q2714,1410 2748,1420 Q2714,1430 2704,1464 Q2694,1430 2660,1420 Q2694,1410 2704,1376 Z" fill="#ffffff" fill-opacity="0.5"/>
<g transform="translate(35,250) scale(0.08540)" stroke-linejoin="round" stroke-linecap="round">
<path d="M500,480 C380,470 200,560 130,745 C230,730 330,750 400,760 Z" fill="#ee5650" stroke="#1b1b1b" stroke-width="38"/>
<path d="M900,860 C920,1000 830,1180 650,1260 C640,1150 620,1060 600,990 Z" fill="#ee5650" stroke="#1b1b1b" stroke-width="38"/>
<path d="M420,1030 C380,940 250,920 190,1000 C150,1060 140,1200 140,1265 C230,1250 360,1220 420,1150 C450,1110 450,1070 420,1030 Z" fill="#f6c34c" stroke="#1b1b1b" stroke-width="38"/>
<path d="M330,985 C270,1045 255,1100 280,1125 C320,1125 370,1095 405,1065" fill="none" stroke="#1b1b1b" stroke-width="40"/>
<path d="M310,855 L390,780 L615,1000 L535,1075 Z" fill="#8fa3b0" stroke="#1b1b1b" stroke-width="38"/>
<path d="M1200,125 C1000,140 700,250 520,480 C420,610 380,720 370,770 L600,990 C700,950 900,850 1010,700 C1150,520 1190,300 1200,125 Z" fill="#d9e0e6" stroke="#1b1b1b" stroke-width="40"/>
<path d="M1200,125 C1100,135 990,160 905,190 L1150,425 C1180,330 1195,230 1200,125 Z" fill="#ee5650" stroke="#1b1b1b" stroke-width="38"/>
<circle cx="850" cy="495" r="112" fill="#5aa8dd" stroke="#1b1b1b" stroke-width="40"/>
<path d="M655,690 L445,915" stroke="#1b1b1b" stroke-width="50" fill="none"/>
<path d="M655,690 L445,915" stroke="#e58f86" stroke-width="16" fill="none"/>
</g>
<g transform="translate(800,320) scale(0.04274)" stroke-linejoin="round" stroke-linecap="round">
<path d="M790,690 C700,760 650,850 640,935 C730,925 840,870 900,790 Z" fill="#f2a22c"/>
<path d="M880,405 L650,550 L830,590 Z" fill="#8b2330"/>
<path d="M940,715 L1140,680 L1010,905 Z" fill="#8b2330"/>
<path d="M1362,168 C1150,215 960,320 860,420 C820,480 810,560 830,620 L940,740 C1080,690 1220,540 1285,410 C1330,320 1355,240 1362,168 Z" fill="#4aa7e0"/>
<path d="M1140,300 L1235,265 L1262,425 L1222,455 Z" fill="#2f3c6c"/>
<path d="M1060,500 L805,760" stroke="#8b2330" stroke-width="95" stroke-linecap="round"/>
</g>
<g transform="translate(50,495) scale(0.08540)" stroke-linejoin="round" stroke-linecap="round">
<rect x="133" y="158" width="824" height="1094" rx="75" fill="#4a87c2" stroke="#10233c" stroke-width="38"/>
<rect x="226" y="256" width="628" height="213" rx="22" fill="#a6d98f" stroke="#1b1b1b" stroke-width="38"/>
<circle cx="665" cy="385" r="18" fill="#1b1b1b"/><circle cx="730" cy="385" r="18" fill="#1b1b1b"/><circle cx="795" cy="385" r="18" fill="#1b1b1b"/>
<rect x="238" y="573" width="129" height="124" rx="28" fill="#d6d6d6" stroke="#1b1b1b" stroke-width="38"/><rect x="238" y="803" width="129" height="119" rx="28" fill="#d6d6d6" stroke="#1b1b1b" stroke-width="38"/><rect x="238" y="1023" width="129" height="124" rx="28" fill="#d6d6d6" stroke="#1b1b1b" stroke-width="38"/><rect x="478" y="573" width="129" height="124" rx="28" fill="#d6d6d6" stroke="#1b1b1b" stroke-width="38"/><rect x="478" y="803" width="129" height="119" rx="28" fill="#d6d6d6" stroke="#1b1b1b" stroke-width="38"/><rect x="478" y="1023" width="129" height="124" rx="28" fill="#d6d6d6" stroke="#1b1b1b" stroke-width="38"/><rect x="718" y="573" width="134" height="124" rx="28" fill="#f0a860" stroke="#1b1b1b" stroke-width="38"/><rect x="718" y="803" width="134" height="344" rx="20" fill="#f1ad55" stroke="#1b1b1b" stroke-width="38"/>
</g>
<g transform="translate(475,495) scale(0.08540)" stroke-linejoin="round" stroke-linecap="round">
<circle cx="705" cy="700" r="545" fill="#e6f0f7" stroke="#142541" stroke-width="85"/>
<circle cx="705" cy="700" r="545" fill="none" stroke="#4677b2" stroke-width="38"/>
<text x="436.9" y="482.9" transform="rotate(-51.00 436.9 482.9)" text-anchor="middle" font-family="Liberation Sans" font-size="150" fill="#1b1b1b" stroke="#1b1b1b" stroke-width="10">C</text><text x="512.1" y="414.0" transform="rotate(-34.00 512.1 414.0)" text-anchor="middle" font-family="Liberation Sans" font-size="150" fill="#1b1b1b" stroke="#1b1b1b" stroke-width="10">U</text><text x="604.1" y="370.1" transform="rotate(-17.00 604.1 370.1)" text-anchor="middle" font-family="Liberation Sans" font-size="150" fill="#1b1b1b" stroke="#1b1b1b" stroke-width="10">S</text><text x="705.0" y="355.0" transform="rotate(0.00 705.0 355.0)" text-anchor="middle" font-family="Liberation Sans" font-size="150" fill="#1b1b1b" stroke="#1b1b1b" stroke-width="10">T</text><text x="805.9" y="370.1" transform="rotate(17.00 805.9 370.1)" text-anchor="middle" font-family="Liberation Sans" font-size="150" fill="#1b1b1b" stroke="#1b1b1b" stroke-width="10">O</text><text x="897.9" y="414.0" transform="rotate(34.00 897.9 414.0)" text-anchor="middle" font-family="Liberation Sans" font-size="150" fill="#1b1b1b" stroke="#1b1b1b" stroke-width="10">M</text><text x="973.1" y="482.9" transform="rotate(51.00 973.1 482.9)" text-anchor="middle" font-family="Liberation Sans" font-size="150" fill="#1b1b1b" stroke="#1b1b1b" stroke-width="10">S</text><text x="374.9" y="1023.2" transform="rotate(45.60 374.9 1023.2)" text-anchor="middle" font-family="Liberation Sans" font-size="150" fill="#1b1b1b" stroke="#1b1b1b" stroke-width="10">C</text><text x="471.2" y="1098.5" transform="rotate(30.40 471.2 1098.5)" text-anchor="middle" font-family="Liberation Sans" font-size="150" fill="#1b1b1b" stroke="#1b1b1b" stroke-width="10">U</text><text x="583.9" y="1145.8" transform="rotate(15.20 583.9 1145.8)" text-anchor="middle" font-family="Liberation Sans" font-size="150" fill="#1b1b1b" stroke="#1b1b1b" stroke-width="10">S</text><text x="705.0" y="1162.0" transform="rotate(0.00 705.0 1162.0)" text-anchor="middle" font-family="Liberation Sans" font-size="150" fill="#1b1b1b" stroke="#1b1b1b" stroke-width="10">T</text><text x="826.1" y="1145.8" transform="rotate(-15.20 826.1 1145.8)" text-anchor="middle" font-family="Liberation Sans" font-size="150" fill="#1b1b1b" stroke="#1b1b1b" stroke-width="10">O</text><text x="938.8" y="1098.5" transform="rotate(-30.40 938.8 1098.5)" text-anchor="middle" font-family="Liberation Sans" font-size="150" fill="#1b1b1b" stroke="#1b1b1b" stroke-width="10">M</text><text x="1035.1" y="1023.2" transform="rotate(-45.60 1035.1 1023.2)" text-anchor="middle" font-family="Liberation Sans" font-size="150" fill="#1b1b1b" stroke="#1b1b1b" stroke-width="10">S</text>
<rect x="665" y="560" width="80" height="200" fill="#b57d5d" stroke="#1b1b1b" stroke-width="35"/>
<circle cx="705" cy="515" r="88" fill="#b57d5d" stroke="#1b1b1b" stroke-width="35"/>
<rect x="665" y="575" width="80" height="180" fill="#b57d5d"/>
<rect x="445" y="750" width="515" height="125" rx="35" fill="#b57d5d" stroke="#1b1b1b" stroke-width="38"/>
<rect x="470" y="880" width="485" height="55" rx="15" fill="#d9a98c" stroke="#1b1b1b" stroke-width="30"/>
</g>
<g transform="translate(40,830) scale(0.07831)" stroke-linejoin="round" stroke-linecap="round">
<path d="M440,880 L680,960 L560,1310 L480,1160 L320,1190 Z" fill="#6fa6c8" stroke="#1b1b1b" stroke-width="40"/>
<path d="M740,960 L975,880 L1110,1200 L960,1170 L870,1310 Z" fill="#6dbd85" stroke="#1b1b1b" stroke-width="40"/>
<path d="M763.1,147.8 Q811.3,185.7 871.9,177.0 Q932.5,168.3 955.3,225.1 Q978.0,282.0 1034.9,304.7 Q1091.7,327.5 1083.0,388.1 Q1074.3,448.7 1112.2,496.9 Q1150.0,545.0 1112.2,593.1 Q1074.3,641.3 1083.0,701.9 Q1091.7,762.5 1034.9,785.3 Q978.0,808.0 955.3,864.9 Q932.5,921.7 871.9,913.0 Q811.3,904.3 763.1,942.2 Q715.0,980.0 666.9,942.2 Q618.7,904.3 558.1,913.0 Q497.5,921.7 474.7,864.9 Q452.0,808.0 395.1,785.3 Q338.3,762.5 347.0,701.9 Q355.7,641.3 317.8,593.1 Q280.0,545.0 317.8,496.9 Q355.7,448.7 347.0,388.1 Q338.3,327.5 395.1,304.7 Q452.0,282.0 474.7,225.1 Q497.5,168.3 558.1,177.0 Q618.7,185.7 666.9,147.8 Q715.0,110.0 763.1,147.8 Z" fill="#f6bb58" stroke="#1b1b1b" stroke-width="40"/>
<circle cx="715" cy="555" r="285" fill="#f8bd55" stroke="#1b1b1b" stroke-width="36"/>
<path d="M570,565 L665,675 L860,480" fill="none" stroke="#1b1b1b" stroke-width="75"/>
<path d="M570,565 L665,675 L860,480" fill="none" stroke="#a9d59b" stroke-width="28"/>
</g>
<g transform="translate(35,950) scale(0.07828)" stroke-linejoin="round" stroke-linecap="round">
<path d="M410,445 C520,430 600,420 700,395 C800,380 900,420 1040,440 L1160,730 C1120,760 1110,790 1090,820 C1110,880 1060,920 1010,930 C1000,990 950,1000 910,1010 C890,1060 820,1080 770,1070 C720,1110 640,1110 580,1090 C530,1060 510,1040 470,1010 C420,1000 380,960 370,920 C330,890 320,840 330,800 L290,760 Z" fill="#f6bf8d" stroke="#1b1b1b" stroke-width="40"/>
<path d="M730,395 C630,440 530,510 510,570 C520,630 600,625 660,585 C710,550 760,555 800,590 L1110,790" fill="#f6bf8d" stroke="#1b1b1b" stroke-width="40"/>
<rect x="-72" y="-46" width="144" height="92" rx="46" transform="translate(405,838) rotate(38)" fill="#f6bf8d" stroke="#1b1b1b" stroke-width="36"/>
<rect x="-72" y="-46" width="144" height="92" rx="46" transform="translate(482,908) rotate(38)" fill="#f6bf8d" stroke="#1b1b1b" stroke-width="36"/>
<rect x="-70" y="-45" width="140" height="90" rx="45" transform="translate(560,975) rotate(38)" fill="#f6bf8d" stroke="#1b1b1b" stroke-width="36"/>
<rect x="-62" y="-42" width="124" height="84" rx="42" transform="translate(640,1040) rotate(38)" fill="#f6bf8d" stroke="#1b1b1b" stroke-width="36"/>
<path d="M880,800 L1030,900 M810,890 L960,990 M745,975 L870,1060" fill="none" stroke="#1b1b1b" stroke-width="36"/>
<path d="M300,315 L430,385 L255,780 L110,705 Z" fill="#5f6670" stroke="#1b1b1b" stroke-width="40"/>
<path d="M1040,380 L1170,325 L1355,715 L1220,775 Z" fill="#4a90d9" stroke="#1b1b1b" stroke-width="40"/>
</g>
<g transform="translate(1915,914) scale(0.11173)" stroke-linejoin="round" stroke-linecap="round">
<path d="M410,445 C520,430 600,420 700,395 C800,380 900,420 1040,440 L1160,730 C1120,760 1110,790 1090,820 C1110,880 1060,920 1010,930 C1000,990 950,1000 910,1010 C890,1060 820,1080 770,1070 C720,1110 640,1110 580,1090 C530,1060 510,1040 470,1010 C420,1000 380,960 370,920 C330,890 320,840 330,800 L290,760 Z" fill="#f6bf8d" stroke="#1b1b1b" stroke-width="40"/>
<path d="M730,395 C630,440 530,510 510,570 C520,630 600,625 660,585 C710,550 760,555 800,590 L1110,790" fill="#f6bf8d" stroke="#1b1b1b" stroke-width="40"/>
<rect x="-72" y="-46" width="144" height="92" rx="46" transform="translate(405,838) rotate(38)" fill="#f6bf8d" stroke="#1b1b1b" stroke-width="36"/>
<rect x="-72" y="-46" width="144" height="92" rx="46" transform="translate(482,908) rotate(38)" fill="#f6bf8d" stroke="#1b1b1b" stroke-width="36"/>
<rect x="-70" y="-45" width="140" height="90" rx="45" transform="translate(560,975) rotate(38)" fill="#f6bf8d" stroke="#1b1b1b" stroke-width="36"/>
<rect x="-62" y="-42" width="124" height="84" rx="42" transform="translate(640,1040) rotate(38)" fill="#f6bf8d" stroke="#1b1b1b" stroke-width="36"/>
<path d="M880,800 L1030,900 M810,890 L960,990 M745,975 L870,1060" fill="none" stroke="#1b1b1b" stroke-width="36"/>
<path d="M300,315 L430,385 L255,780 L110,705 Z" fill="#5f6670" stroke="#1b1b1b" stroke-width="40"/>
<path d="M1040,380 L1170,325 L1355,715 L1220,775 Z" fill="#4a90d9" stroke="#1b1b1b" stroke-width="40"/>
</g>
<g transform="translate(45,1120) scale(0.10320)" stroke-linejoin="round" stroke-linecap="round">
<path d="M625,90 L625,210 M230,250 L320,340 M1010,255 L930,335 M80,648 L190,648 M1050,648 L1160,648 M230,1045 L310,970 M940,965 L1015,1045" stroke="#1b1b1b" stroke-width="32" fill="none"/>
<path d="M465,1075 C440,950 285,850 285,640 C285,450 430,300 620,300 C810,300 955,450 955,640 C955,850 800,950 780,1075 Z" fill="#f7c14b" stroke="#1b1b1b" stroke-width="40"/>
<path d="M390,570 C410,480 470,420 560,400" stroke="#1b1b1b" stroke-width="26" fill="none"/>
<circle cx="510" cy="730" r="45" fill="none" stroke="#1b1b1b" stroke-width="28"/>
<circle cx="735" cy="730" r="45" fill="none" stroke="#1b1b1b" stroke-width="28"/>
<path d="M550,770 L585,1075 M695,770 L660,1075 M550,770 L695,770" stroke="#1b1b1b" stroke-width="28" fill="none"/>
<path d="M510,1240 Q620,1350 740,1240 Z" fill="#9d9d9d" stroke="#1b1b1b" stroke-width="34"/>
<rect x="470" y="1075" width="310" height="175" rx="30" fill="#1b1b1b"/>
<path d="M500,1115 L750,1115 M500,1165 L750,1165 M500,1215 L750,1215" stroke="#eeeeee" stroke-width="24"/>
</g>
<g transform="translate(980,200) scale(0.09970)" stroke-linejoin="round" stroke-linecap="round">
<path d="M760,165 L762,250 M535,228 L568,298 M985,228 L952,298 M360,410 L428,452 M1165,410 L1095,452 M292,642 L378,642 M1140,646 L1224,646 M368,880 L438,842 M1088,838 L1158,880" stroke="#0e2a1c" stroke-width="34" fill="none"/>
<path d="M625,1030 C600,920 455,830 455,630 C455,460 590,330 762,330 C935,330 1068,460 1068,630 C1068,830 925,920 900,1030 Z" fill="#f6c24a" stroke="#1b1b1b" stroke-width="40"/>
<path d="M815,420 C900,450 965,520 982,600" stroke="#1b1b1b" stroke-width="30" fill="none"/>
<circle cx="662" cy="742" r="40" fill="#f3d9a0" stroke="#1b1b1b" stroke-width="30"/>
<circle cx="858" cy="742" r="40" fill="#f3d9a0" stroke="#1b1b1b" stroke-width="30"/>
<path d="M700,775 L820,775 M715,775 L720,1030 M805,775 L800,1030" stroke="#1b1b1b" stroke-width="30" fill="none"/>
<path d="M690,1190 Q765,1300 840,1190 Z" fill="#9d9d9d" stroke="#1b1b1b" stroke-width="34"/>
<rect x="622" y="1025" width="282" height="175" rx="35" fill="#1b1b1b"/>
<path d="M650,1075 L880,1075 M650,1140 L880,1140" stroke="#9a9c9e" stroke-width="34"/>
</g>
<g transform="translate(60,1285) scale(0.13889)" stroke-linejoin="round" stroke-linecap="round">
<path d="M172,262 A178,178 0 0 0 330,588 M508,262 A178,178 0 0 1 350,588" fill="none" stroke="#1b1b1b" stroke-width="30"/>
<path d="M162,238 A185,185 0 0 1 245,98 M438,98 A185,185 0 0 1 518,238" fill="none" stroke="#1b1b1b" stroke-width="30"/>
<path d="M165,265 C230,238 310,250 338,292 C320,350 300,385 280,392 C215,375 175,320 165,265 Z" fill="#2f9a8f" stroke="#1b1b1b" stroke-width="28"/>
<path d="M515,265 C450,238 370,250 342,292 C360,350 380,385 400,392 C465,375 505,320 515,265 Z" fill="#58c070" stroke="#1b1b1b" stroke-width="28"/>
<path d="M338,292 C320,330 300,370 282,392 L398,392 C380,370 360,330 342,292 Z" fill="#3fae86" stroke="#1b1b1b" stroke-width="20"/>
<path d="M282,395 C330,385 350,385 398,395 C410,450 380,515 340,545 C300,515 270,450 282,395 Z" fill="#5cc472" stroke="#1b1b1b" stroke-width="28"/>
<rect x="282" y="72" width="108" height="148" rx="14" fill="#b9e3a8" stroke="#1b1b1b" stroke-width="26"/>
<path d="M300,120 L372,120 M300,160 L372,160" stroke="#5aa860" stroke-width="14"/>
<path d="M75,430 C90,410 180,410 195,430 L185,495 C150,510 110,510 90,495 Z" fill="#7ccc7e" stroke="#1b1b1b" stroke-width="24"/>
<path d="M490,430 C505,410 595,410 610,430 L600,495 C565,510 525,510 505,495 Z" fill="#7ccc7e" stroke="#1b1b1b" stroke-width="24"/>
</g>
<g transform="translate(60,1285) scale(0.13889)" stroke-linejoin="round" stroke-linecap="round">
<circle cx="325" cy="935" r="78" fill="#4cae6a" stroke="#1b1b1b" stroke-width="30"/>
<circle cx="520" cy="925" r="78" fill="#4cae6a" stroke="#1b1b1b" stroke-width="30"/>
<path d="M330,895 C300,905 295,950 330,965" stroke="#cfe8c8" stroke-width="22" fill="none"/>
<path d="M520,880 L520,975 M500,905 C540,895 545,935 520,930 C495,925 500,965 540,955" stroke="#cfe8c8" stroke-width="18" fill="none"/>
<path d="M200,945 C150,960 140,1000 150,1035 M115,995 L150,1040 L190,1000" stroke="#1b1b1b" stroke-width="26" fill="none"/>
<rect x="78" y="1072" width="305" height="280" fill="#dfe8ef" stroke="#1b1b1b" stroke-width="26"/>
<circle cx="135" cy="1145" r="13" fill="#1b1b1b"/><circle cx="135" cy="1215" r="13" fill="#1b1b1b"/><circle cx="135" cy="1285" r="13" fill="#1b1b1b"/>
<path d="M195,1145 L325,1145 M195,1215 L325,1215 M195,1285 L325,1285" stroke="#1b1b1b" stroke-width="26"/>
<path d="M530,1045 L530,1250 L410,1250" fill="none" stroke="#1b1b1b" stroke-width="26"/>
</g>
<g transform="translate(980,30) scale(0.10320)" stroke-linejoin="round" stroke-linecap="round">
<path d="M700,290 L700,85" stroke="#1b1b1b" stroke-width="36"/>
<rect x="690" y="75" width="190" height="135" fill="#1b1b1b"/>
<rect x="720" y="105" width="120" height="75" fill="#ea7a50"/>
<rect x="340" y="680" width="720" height="490" fill="#7e9db4"/>
<path d="M125,590 L700,290 L1275,590 Z" fill="#c6dcee" stroke="#1b1b1b" stroke-width="42"/>
<circle cx="695" cy="455" r="68" fill="#7a9fbd" stroke="#1b1b1b" stroke-width="30"/>
<rect x="165" y="598" width="1070" height="70" fill="#1b1b1b"/>
<rect x="195" y="615" width="1010" height="36" fill="#e9eef2"/>
<rect x="215" y="675" width="130" height="490" fill="#1b1b1b"/><rect x="228" y="688" width="104" height="32" fill="#eef2f5"/><rect x="243" y="745" width="74" height="350" fill="#d2e2ee"/><rect x="228" y="1115" width="104" height="38" fill="#eef2f5"/><rect x="425" y="675" width="130" height="490" fill="#1b1b1b"/><rect x="438" y="688" width="104" height="32" fill="#eef2f5"/><rect x="453" y="745" width="74" height="350" fill="#d2e2ee"/><rect x="438" y="1115" width="104" height="38" fill="#eef2f5"/><rect x="845" y="675" width="130" height="490" fill="#1b1b1b"/><rect x="858" y="688" width="104" height="32" fill="#eef2f5"/><rect x="873" y="745" width="74" height="350" fill="#d2e2ee"/><rect x="858" y="1115" width="104" height="38" fill="#eef2f5"/><rect x="1055" y="675" width="130" height="490" fill="#1b1b1b"/><rect x="1068" y="688" width="104" height="32" fill="#eef2f5"/><rect x="1083" y="745" width="74" height="350" fill="#d2e2ee"/><rect x="1068" y="1115" width="104" height="38" fill="#eef2f5"/>
<path d="M615,1165 L615,990 C615,940 655,905 697,905 C740,905 780,940 780,990 L780,1165 Z" fill="#8e6a50" stroke="#1b1b1b" stroke-width="32"/>
<rect x="140" y="1168" width="1115" height="75" fill="#1b1b1b"/>
<rect x="165" y="1190" width="1060" height="36" fill="#eef2f5"/>
<rect x="100" y="1243" width="1200" height="80" fill="#1b1b1b"/>
<rect x="125" y="1265" width="1145" height="36" fill="#eef2f5"/>
</g>
<g transform="translate(1020,390) scale(0.07828)" stroke-linejoin="round" stroke-linecap="round">
<path d="M895,190 Q895,120 965,120 L1350,120 Q1420,120 1420,190 L1420,470 Q1420,540 1350,540 L1130,540 L1020,650 L990,540 L965,540 Q895,540 895,470 Z" fill="#5cb86a" stroke="#1b1b1b" stroke-width="40"/>
<path d="M1005,245 L1300,245 M1005,325 L1300,325 M1005,410 L1190,410" stroke="#0d2a12" stroke-width="32"/>
<path d="M170,1280 L170,1060 C170,950 260,885 420,870 L740,870 C900,885 1000,950 1000,1060 L1000,1280 Z" fill="#4b9fdf" stroke="#1b1b1b" stroke-width="40"/>
<path d="M500,790 L500,880 L680,880 L680,790 Z" fill="#f2b27e" stroke="#1b1b1b" stroke-width="30"/>
<path d="M360,640 C330,420 420,270 580,270 C720,270 800,340 800,450 L800,620 C760,600 740,520 700,470 C600,480 500,480 440,470 C400,520 390,600 360,640 Z" fill="#6c6c70" stroke="#1b1b1b" stroke-width="36"/>
<path d="M425,500 C470,480 560,490 700,470 C740,500 750,560 755,600 C790,600 790,650 740,660 C720,760 650,810 585,810 C510,810 450,760 430,660 C380,650 380,600 415,600 C415,560 415,520 425,500 Z" fill="#f2b27e" stroke="#1b1b1b" stroke-width="34"/>
<path d="M440,880 L585,950 L480,1030 Z M735,880 L595,950 L700,1030 Z" fill="#6fb9ef" stroke="#1b1b1b" stroke-width="32"/>
<path d="M560,965 L615,965 L645,1280 L530,1280 Z" fill="#e2794a" stroke="#1b1b1b" stroke-width="28"/>
<path d="M320,1110 L320,1280 M860,1110 L860,1280" stroke="#1b1b1b" stroke-width="36"/>
</g>
<g transform="translate(1675,390) scale(0.07828)" stroke-linejoin="round" stroke-linecap="round">
<circle cx="760" cy="480" r="338" fill="#a9cde3" stroke="#1b1b1b" stroke-width="42"/>
<circle cx="760" cy="480" r="265" fill="#bfe0f2" stroke="#1b1b1b" stroke-width="36"/>
<path d="M760,240 L760,280 M880,272 L868,294 M968,360 L946,372 M1000,480 L960,480 M968,600 L946,588 M880,688 L868,666 M760,720 L760,680 M640,688 L652,666 M552,600 L574,588 M520,480 L560,480 M552,360 L574,372 M640,272 L652,294 " stroke="#1b1b1b" stroke-width="22"/>
<path d="M750,335 L750,490 L860,490" fill="none" stroke="#1b1b1b" stroke-width="34"/>
<path d="M215,540 C250,540 262,565 262,600 L270,780 L330,795 C450,855 560,940 592,1050 L600,1180 L420,1180 L390,1140 C300,1060 210,970 188,880 L180,590 C180,560 195,540 215,540 Z" fill="#f5bf8e" stroke="#1b1b1b" stroke-width="40"/>
<path d="M300,830 L400,980" stroke="#1b1b1b" stroke-width="34"/>
<rect x="360" y="1192" width="300" height="98" fill="#1b1b1b"/><rect x="385" y="1215" width="250" height="50" fill="#c5ddee"/>
<g transform="translate(1520,0) scale(-1,1)"><path d="M215,540 C250,540 262,565 262,600 L270,780 L330,795 C450,855 560,940 592,1050 L600,1180 L420,1180 L390,1140 C300,1060 210,970 188,880 L180,590 C180,560 195,540 215,540 Z" fill="#f5bf8e" stroke="#1b1b1b" stroke-width="40"/>
<path d="M300,830 L400,980" stroke="#1b1b1b" stroke-width="34"/>
<rect x="360" y="1192" width="300" height="98" fill="#1b1b1b"/><rect x="385" y="1215" width="250" height="50" fill="#c5ddee"/></g>
</g>
<g transform="translate(960,1300) scale(0.12812)" stroke-linejoin="round" stroke-linecap="round">
<path d="M765,290 L765,460 M705,410 L765,470 L825,410" fill="none" stroke="#1b1b1b" stroke-width="36"/>
<path d="M300,1000 L300,630 L540,630 M480,575 L545,630 L480,690" fill="none" stroke="#1b1b1b" stroke-width="36"/>
<path d="M945,630 L1240,630 L1240,855 M1180,790 L1240,860 L1300,790" fill="none" stroke="#1b1b1b" stroke-width="36"/>
<path d="M765,755 L765,960 M705,900 L765,965 L825,900" fill="none" stroke="#1b1b1b" stroke-width="36"/>
<rect x="585" y="85" width="350" height="200" rx="50" fill="#4a8fd4" stroke="#1b1b1b" stroke-width="36"/>
<path d="M565,630 L765,500 L945,630 L765,755 Z" fill="#f5a34a" stroke="#1b1b1b" stroke-width="36"/>
<rect x="115" y="1010" width="350" height="200" rx="60" fill="#5cb87a" stroke="#1b1b1b" stroke-width="36"/>
<circle cx="765" cy="1105" r="112" fill="#ee7a5e" stroke="#1b1b1b" stroke-width="34"/>
<circle cx="1230" cy="1105" r="212" fill="#4f84c2" stroke="#10233c" stroke-width="32"/>
<circle cx="1230" cy="1105" r="150" fill="#e9f2f8" stroke="#1b1b1b" stroke-width="30"/>
<path d="M1230,995 L1230,1110 L1300,1160" fill="none" stroke="#1b1b1b" stroke-width="30"/>
</g>
<g transform="translate(1880,0) scale(0.11390)" stroke-linejoin="round" stroke-linecap="round">
<path d="M550,300 Q550,268 582,268 L880,268 L980,378 L1458,378 Q1490,378 1490,410 L1490,1120 L550,1120 Z" fill="#f29b3b" stroke="#1b1b1b" stroke-width="36"/>
<rect x="645" y="445" width="775" height="260" fill="#f8f8f8" stroke="#1b1b1b" stroke-width="30"/>
<path d="M700,505 L1360,505 M740,555 L1350,555" stroke="#1b1b1b" stroke-width="28"/>
<path d="M720,615 L1585,615 Q1615,615 1605,645 L1490,1125 Q1482,1150 1455,1150 L570,1150 Q545,1150 555,1120 Z" fill="#fcc862" stroke="#1b1b1b" stroke-width="36"/>
</g>
<g transform="translate(1935,180) scale(0.11031)" stroke-linejoin="round" stroke-linecap="round">
<rect x="112" y="212" width="893" height="1108" rx="60" fill="#c99b78" stroke="#1b1b1b" stroke-width="40"/>
<rect x="182" y="282" width="753" height="958" fill="#f6f3ee" stroke="#1b1b1b" stroke-width="26"/>
<path d="M360,330 L360,230 Q360,205 390,205 L470,205 C480,110 630,110 640,205 L730,205 Q760,205 760,230 L760,330 Z" fill="#7d93a6" stroke="#1b1b1b" stroke-width="36"/>
<circle cx="555" cy="165" r="20" fill="#1b1b1b"/>
<path d="M285,545 L335,595 L430,500 M285,780 L335,830 L430,735 M285,1015 L335,1065 L430,970" fill="none" stroke="#1b1b1b" stroke-width="36"/>
<path d="M500,505 L825,505 M500,595 L825,595 M500,740 L830,740 M500,830 L675,830 M500,975 L660,975 M500,1065 L645,1065" stroke="#1b1b1b" stroke-width="36"/>
<circle cx="945" cy="990" r="228" fill="#58b46a" stroke="#1b1b1b" stroke-width="40"/>
<path d="M815,1010 L895,1095 L1060,915" fill="none" stroke="#1b1b1b" stroke-width="80"/>
<path d="M815,1010 L895,1095 L1060,915" fill="none" stroke="#f3f3f3" stroke-width="38"/>
</g>
<g transform="translate(1930,410) scale(0.10676)" stroke-linejoin="round" stroke-linecap="round">
<path d="M940,940 L1225,1230" stroke="#1b1b1b" stroke-width="215"/>
<path d="M940,940 L1225,1230" stroke="#6e7079" stroke-width="145"/>
<path d="M820,880 L900,800 L970,870 L890,950 Z" fill="#a6a8ab" stroke="#1b1b1b" stroke-width="34"/>
<circle cx="535" cy="545" r="410" fill="#9c9ea2" stroke="#1b1b1b" stroke-width="42"/>
<circle cx="535" cy="545" r="320" fill="#b9def2" stroke="#1b1b1b" stroke-width="42"/>
<path d="M500,315 C600,310 700,360 730,430" fill="none" stroke="#1b1b1b" stroke-width="36"/>
</g>
<g transform="translate(1915,740) scale(0.09960)" stroke-linejoin="round" stroke-linecap="round">
<path d="M780,205 L195,1240 L1365,1240 Z" fill="#ee5f57" stroke="#1b1b1b" stroke-width="150"/>
<path d="M780,205 L195,1240 L1365,1240 Z" fill="#ee5f57" stroke="#ee5f57" stroke-width="80"/>
<path d="M780,280 L270,1165 L1290,1165 Z" fill="#f5efec" stroke="#1b1b1b" stroke-width="38"/>
<path d="M780,545 L780,875" stroke="#1b1b1b" stroke-width="130"/>
<path d="M780,550 L780,870" stroke="#9c8279" stroke-width="60"/>
<circle cx="780" cy="1030" r="62" fill="#a66b5e" stroke="#1b1b1b" stroke-width="36"/>
</g>
<g transform="translate(1920,1090) scale(0.20648)" stroke-linejoin="round" stroke-linecap="round">
<path d="M355,405 C350,330 320,280 270,240 M355,405 C380,320 420,260 470,200" fill="none" stroke="#1b1b1b" stroke-width="20"/>
<path d="M175,185 C260,170 335,200 345,305 C250,330 190,260 175,185 Z" fill="#6cbf6a" stroke="#1b1b1b" stroke-width="19"/>
<path d="M625,55 C520,50 400,100 390,245 C500,270 600,200 625,55 Z" fill="#6cbf6a" stroke="#1b1b1b" stroke-width="19"/>
<path d="M255,240 L320,290 M420,230 L520,135" stroke="#1b1b1b" stroke-width="15"/>
<path d="M262,432 C290,390 420,380 470,420 C500,450 495,480 465,492 C400,470 300,460 262,432 Z" fill="#a87356" stroke="#1b1b1b" stroke-width="18"/>
<path d="M155,462 C200,452 250,432 300,432 C360,440 420,470 460,490 C500,480 560,450 600,455 C640,462 632,500 600,512 C520,560 440,600 380,625 C320,632 250,602 155,597 Z" fill="#f5c09a" stroke="#1b1b1b" stroke-width="20"/>
<path d="M305,525 L445,525" stroke="#1b1b1b" stroke-width="18"/>
<rect x="72" y="432" width="82" height="192" fill="#4a86d0" stroke="#1b1b1b" stroke-width="19"/>
<path d="M160,975 C90,960 70,1060 140,1095 C130,1160 210,1180 260,1150 C290,1200 380,1210 420,1160 C470,1190 550,1170 545,1110 C610,1100 630,1010 560,985 C590,930 540,870 480,890 C450,830 370,820 330,870 C290,840 210,850 200,910 C170,910 150,940 160,975 Z" fill="#ffffff" stroke="#1b1b1b" stroke-width="20"/>
<circle cx="210" cy="1245" r="35" fill="#fff" stroke="#1b1b1b" stroke-width="18"/>
<circle cx="135" cy="1310" r="25" fill="#fff" stroke="#1b1b1b" stroke-width="18"/>
</g>
</svg>
</body></html>
